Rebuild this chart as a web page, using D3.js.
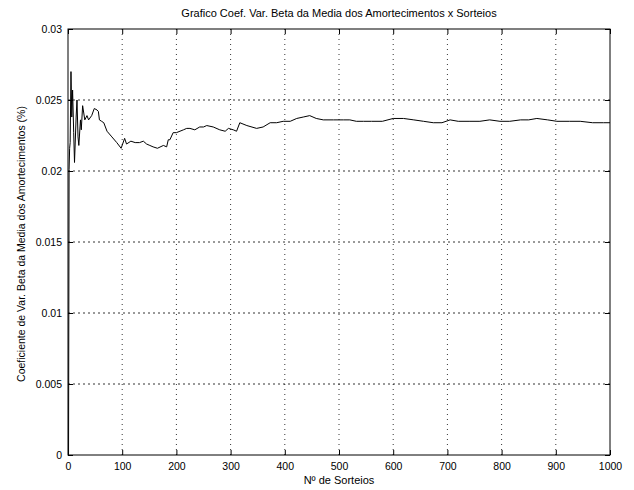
<!DOCTYPE html>
<html>
<head>
<meta charset="utf-8">
<script src="https://cdn.jsdelivr.net/npm/d3@7"></script>
<style>
  body { margin: 0; background: #fff; }
  text { font-family: "Liberation Sans", Arial, Helvetica, sans-serif; fill: #000; }
</style>
</head>
<body>
<svg id="chart" width="634" height="490"></svg>
<script>
const title = "Grafico Coef. Var. Beta da Media dos Amortecimentos x Sorteios";
const xLabel = "Nº de Sorteios";
const yLabel = "Coeficiente de Var. Beta da Media dos Amortecimentos (%)";
const xTicks = [0, 100, 200, 300, 400, 500, 600, 700, 800, 900, 1000];
const yTicks = [0, 0.005, 0.01, 0.015, 0.02, 0.025, 0.03];
const yTickLabels = ["0", "0.005", "0.01", "0.015", "0.02", "0.025", "0.03"];

const sorteios = [1, 2, 3, 4, 5.5, 7, 8.5, 10.5, 12, 15, 16.6, 18.5, 20, 23, 24.5, 27, 31, 35, 38, 43.7, 48.5, 53.5, 56, 58, 62, 66, 72, 81, 90, 98, 104.5, 108, 116, 124, 132, 139, 145, 151, 157, 165, 176, 182, 185, 188, 194, 200, 213, 219, 225, 234, 243, 250, 256, 268, 280, 290, 296, 305, 311, 317, 330, 348, 360, 373, 385, 397, 410, 422, 434, 446, 458, 471, 490, 508, 520, 532, 545, 560, 580, 600, 619, 638, 656, 674, 690, 705, 720, 740, 760, 778, 797, 815, 835, 850, 865, 885, 902, 925, 945, 968, 988, 1000];
const coefVar = [0, 0.0201, 0.0216, 0.0220, 0.0270, 0.0238, 0.0257, 0.0227, 0.0206, 0.0238, 0.0250, 0.0224, 0.0218, 0.0236, 0.0229, 0.0246, 0.0236, 0.0239, 0.0236, 0.0239, 0.0244, 0.0243, 0.0242, 0.0236, 0.0235, 0.0234, 0.0228, 0.0224, 0.0220, 0.0216, 0.0223, 0.0219, 0.0221, 0.0220, 0.0220, 0.0221, 0.0219, 0.0218, 0.0217, 0.0216, 0.0218, 0.0217, 0.0222, 0.0222, 0.0227, 0.0227, 0.0229, 0.0230, 0.0230, 0.0229, 0.0231, 0.0231, 0.0232, 0.0231, 0.0229, 0.0228, 0.0230, 0.0229, 0.0228, 0.0234, 0.0232, 0.0230, 0.0231, 0.0234, 0.0234, 0.0235, 0.0235, 0.0237, 0.0238, 0.0239, 0.0237, 0.0236, 0.0236, 0.0236, 0.0236, 0.0235, 0.0235, 0.0235, 0.0235, 0.0237, 0.0237, 0.0236, 0.0235, 0.0234, 0.0234, 0.0236, 0.0235, 0.0235, 0.0235, 0.0236, 0.0235, 0.0235, 0.0236, 0.0236, 0.0237, 0.0236, 0.0235, 0.0235, 0.0235, 0.0234, 0.0234, 0.0234];

const svg = d3.select("#chart");
const m = { left: 68, right: 610, top: 29, bottom: 455 };

const x = d3.scaleLinear().domain([0, 1000]).range([m.left, m.right]);
const y = d3.scaleLinear().domain([0, 0.03]).range([m.bottom, m.top]);

svg.append("rect").attr("x", 0).attr("y", 0).attr("width", 634).attr("height", 490).attr("fill", "#fff");

// grid
const grid = svg.append("g");
grid.selectAll("line.vx").data(xTicks.slice(1, -1)).enter().append("line")
  .attr("x1", d => x(d)).attr("x2", d => x(d)).attr("y1", m.top).attr("y2", m.bottom)
  .attr("stroke", "#000").attr("stroke-width", 0.8).attr("stroke-dasharray", "1,4");
grid.selectAll("line.hy").data(yTicks.slice(1, -1)).enter().append("line")
  .attr("y1", d => y(d)).attr("y2", d => y(d)).attr("x1", m.left).attr("x2", m.right)
  .attr("stroke", "#000").attr("stroke-width", 0.8).attr("stroke-dasharray", "2,3");

// axes
const axB = d3.axisBottom(x).tickValues(xTicks).tickSize(-5).tickPadding(8).tickFormat(d3.format("d"));
const axT = d3.axisTop(x).tickValues(xTicks).tickSize(-5).tickFormat("");
const axL = d3.axisLeft(y).tickValues(yTicks).tickSize(-5).tickPadding(6).tickFormat((d, i) => yTickLabels[i]);
const axR = d3.axisRight(y).tickValues(yTicks).tickSize(-5).tickFormat("");

function style(g) {
  g.select(".domain").remove();
  g.selectAll(".tick line").attr("stroke", "#000");
  g.selectAll("text").attr("font-size", 10.5).attr("font-family", "'Liberation Sans', Arial, sans-serif");
}
svg.append("g").attr("transform", `translate(0,${m.bottom})`).call(axB).call(style);
svg.append("g").attr("transform", `translate(0,${m.top})`).call(axT).call(style);
svg.append("g").attr("transform", `translate(${m.left},0)`).call(axL).call(style);
svg.append("g").attr("transform", `translate(${m.right},0)`).call(axR).call(style);

svg.append("rect").attr("x", m.left).attr("y", m.top).attr("width", m.right - m.left).attr("height", m.bottom - m.top)
  .attr("fill", "none").attr("stroke", "#000").attr("stroke-width", 1);

// data line
const pts = sorteios.map((s, i) => [s, coefVar[i]]);
svg.append("path").datum(pts)
  .attr("fill", "none").attr("stroke", "#000").attr("stroke-width", 1)
  .attr("d", d3.line().x(d => x(d[0])).y(d => y(d[1])));

// text
svg.append("text").attr("x", (m.left + m.right) / 2).attr("y", 17).attr("text-anchor", "middle")
  .attr("font-size", 11).text(title);
svg.append("text").attr("x", (m.left + m.right) / 2).attr("y", 484).attr("text-anchor", "middle")
  .attr("font-size", 11).text(xLabel);
svg.append("text").attr("transform", `translate(25,${(m.top + m.bottom) / 2 + 2}) rotate(-90)`)
  .attr("text-anchor", "middle").attr("font-size", 10.5).text(yLabel);
</script>
</body>
</html>
